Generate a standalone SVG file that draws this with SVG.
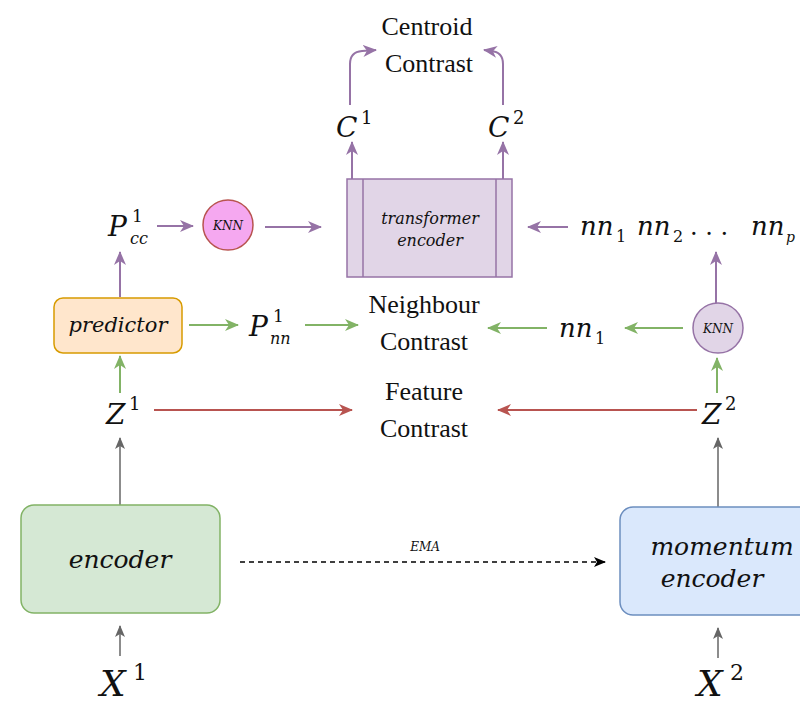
<svg xmlns="http://www.w3.org/2000/svg" width="800" height="703" viewBox="0 0 800 703">
<defs>
<style>
text{font-family:"DejaVu Serif","Liberation Serif",serif}
.lbl{font-family:"Liberation Serif","DejaVu Serif",serif;font-size:26px;fill:#111;text-anchor:middle}
.m{font-family:"DejaVu Serif","Liberation Serif",serif;font-style:italic;fill:#111}
.n{font-style:normal}
.cp{fill:none;stroke:#9673a6;stroke-width:2}
.cg{fill:none;stroke:#82b366;stroke-width:2}
.cr{fill:none;stroke:#b85450;stroke-width:2}
.ck{fill:none;stroke:#666666;stroke-width:1.5}
</style>
<marker id="ap" markerUnits="userSpaceOnUse" markerWidth="14" markerHeight="12" refX="13" refY="6" orient="auto"><path d="M0,0 L14,6 L0,12 L4,6 z" fill="#9673a6"/></marker>
<marker id="ag" markerUnits="userSpaceOnUse" markerWidth="14" markerHeight="12" refX="13" refY="6" orient="auto"><path d="M0,0 L14,6 L0,12 L4,6 z" fill="#82b366"/></marker>
<marker id="ar" markerUnits="userSpaceOnUse" markerWidth="14" markerHeight="12" refX="13" refY="6" orient="auto"><path d="M0,0 L14,6 L0,12 L4,6 z" fill="#b85450"/></marker>
<marker id="ak" markerUnits="userSpaceOnUse" markerWidth="12" markerHeight="12" refX="11" refY="5" orient="auto"><path d="M0,0 L12,5 L0,10 L3,5 z" fill="#666666"/></marker>
<marker id="ab" markerUnits="userSpaceOnUse" markerWidth="12" markerHeight="12" refX="11" refY="5" orient="auto"><path d="M0,0 L12,5 L0,10 L3,5 z" fill="#000"/></marker>
</defs>
<rect width="800" height="703" fill="#fff"/>

<g id="connectors">
<path class="cp" d="M350,105 V64 Q350,52 362,51 L376,50" marker-end="url(#ap)"/>
<path class="cp" d="M503,105 V64 Q503,52 491,51 L484,50" marker-end="url(#ap)"/>
<path class="cp" d="M352,179 V142" marker-end="url(#ap)"/>
<path class="cp" d="M503,179 V142" marker-end="url(#ap)"/>
<path class="cp" d="M157,226 H193" marker-end="url(#ap)"/>
<path class="cp" d="M265,227 H321" marker-end="url(#ap)"/>
<path class="cp" d="M568,227 H528" marker-end="url(#ap)"/>
<path class="cp" d="M120,297 V252" marker-end="url(#ap)"/>
<path class="cp" d="M716,303 V252" marker-end="url(#ap)"/>
<path class="cg" d="M189,325 H238" marker-end="url(#ag)"/>
<path class="cg" d="M305,325 H358" marker-end="url(#ag)"/>
<path class="cg" d="M547,328 H488" marker-end="url(#ag)"/>
<path class="cg" d="M683,328 H625" marker-end="url(#ag)"/>
<path class="cg" d="M120,393 V356" marker-end="url(#ag)"/>
<path class="cg" d="M717,393 V358" marker-end="url(#ag)"/>
<path class="cr" d="M154,410 H352" marker-end="url(#ar)"/>
<path class="cr" d="M697,410 H498" marker-end="url(#ar)"/>
<path class="ck" d="M120,505 V438" marker-end="url(#ak)"/>
<path class="ck" d="M718,507 V438" marker-end="url(#ak)"/>
<path class="ck" d="M120,656 V626" marker-end="url(#ak)"/>
<path class="ck" d="M718,658 V628" marker-end="url(#ak)"/>
<path d="M240,562 H605" fill="none" stroke="#000" stroke-width="1.5" stroke-dasharray="5,4" marker-end="url(#ab)"/>
<text x="425" y="551" class="m" font-size="12" text-anchor="middle">EMA</text>
</g>

<g id="centroid-contrast">
<text x="427" y="35" class="lbl">Centroid</text>
<text x="429" y="72" class="lbl">Contrast</text>
</g>
<g id="C1"><text x="336" y="137" class="m" font-size="28">C</text><text x="361" y="124" class="m n" font-size="18">1</text></g>
<g id="C2"><text x="488" y="137" class="m" font-size="28">C</text><text x="513" y="124" class="m n" font-size="18">2</text></g>

<g id="transformer-encoder">
<rect x="347" y="179" width="165" height="98" fill="#e1d5e7" stroke="#9673a6" stroke-width="1.5"/>
<line x1="363" y1="179" x2="363" y2="277" stroke="#9673a6" stroke-width="1.5"/>
<line x1="496" y1="179" x2="496" y2="277" stroke="#9673a6" stroke-width="1.5"/>
<text x="430" y="224" class="m" font-size="16" text-anchor="middle">transformer</text>
<text x="430" y="246" class="m" font-size="16" text-anchor="middle">encoder</text>
</g>

<g id="Pcc"><text x="108" y="236" class="m" font-size="28">P</text><text x="132" y="222" class="m n" font-size="17">1</text><text x="130" y="244" class="m" font-size="16">cc</text></g>

<g id="knn-left">
<circle cx="228" cy="225" r="25" fill="#f5a8f0" stroke="#b85450" stroke-width="1.5"/>
<text x="228" y="230" class="m" font-size="12" text-anchor="middle">KNN</text>
</g>

<g id="nn-list">
<text x="580" y="235" class="m" font-size="26">nn</text><text x="616" y="242" class="m n" font-size="16">1</text>
<text x="637" y="235" class="m" font-size="26">nn</text><text x="673" y="242" class="m n" font-size="16">2</text>
<text x="690" y="235" class="m n" font-size="24">. . .</text>
<text x="751" y="235" class="m" font-size="26">nn</text><text x="786" y="242" class="m" font-size="14">p</text>
</g>

<g id="predictor">
<rect x="54" y="298" width="128" height="55" rx="9" fill="#ffe6cc" stroke="#d79b00" stroke-width="1.5"/>
<text x="118" y="332" class="m" font-size="21" text-anchor="middle">predictor</text>
</g>

<g id="Pnn"><text x="249" y="336" class="m" font-size="28">P</text><text x="273" y="322" class="m n" font-size="17">1</text><text x="270" y="344" class="m" font-size="16">nn</text></g>

<g id="neighbour-contrast">
<text x="424" y="313" class="lbl">Neighbour</text>
<text x="424" y="350" class="lbl">Contrast</text>
</g>

<g id="nn1"><text x="559" y="337" class="m" font-size="26">nn</text><text x="595" y="344" class="m n" font-size="16">1</text></g>

<g id="knn-right">
<circle cx="718" cy="328" r="25" fill="#e1d5e7" stroke="#9673a6" stroke-width="1.5"/>
<text x="718" y="333" class="m" font-size="12" text-anchor="middle">KNN</text>
</g>

<g id="Z1"><text x="106" y="424" class="m" font-size="28">Z</text><text x="129" y="410" class="m n" font-size="18">1</text></g>
<g id="Z2"><text x="702" y="424" class="m" font-size="28">Z</text><text x="725" y="410" class="m n" font-size="18">2</text></g>

<g id="feature-contrast">
<text x="424" y="400" class="lbl">Feature</text>
<text x="424" y="437" class="lbl">Contrast</text>
</g>

<g id="encoder">
<rect x="21" y="505" width="199" height="108" rx="13" fill="#d5e8d4" stroke="#82b366" stroke-width="1.5"/>
<text x="120" y="568" class="m" font-size="25" text-anchor="middle">encoder</text>
</g>

<g id="momentum-encoder">
<rect x="620" y="507" width="200" height="108" rx="13" fill="#dae8fc" stroke="#6c8ebf" stroke-width="1.5"/>
<text x="722" y="555" class="m" font-size="25" text-anchor="middle">momentum</text>
<text x="712" y="587" class="m" font-size="25" text-anchor="middle">encoder</text>
</g>

<g id="X1"><text x="100" y="696" class="m" font-size="36">X</text><text x="133" y="680" class="m n" font-size="22">1</text></g>
<g id="X2"><text x="697" y="696" class="m" font-size="36">X</text><text x="730" y="680" class="m n" font-size="22">2</text></g>
</svg>
